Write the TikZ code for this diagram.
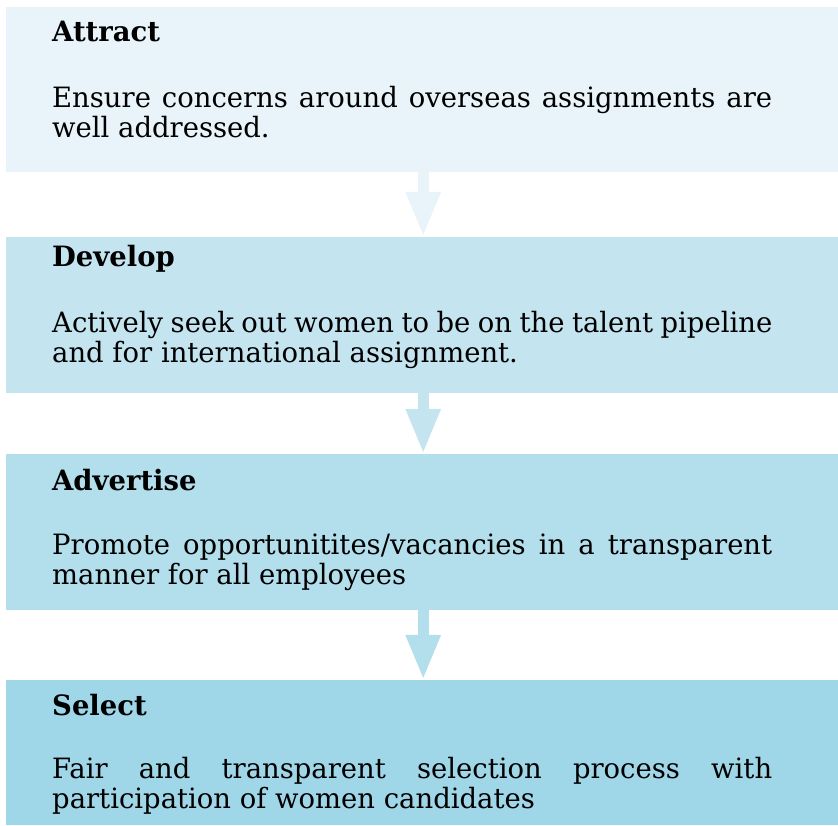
\documentclass[tikz,border=0pt]{standalone}
\usepackage{fontspec}
\setmainfont{DejaVu Serif}[FakeStretch=0.98]
\usetikzlibrary{arrows.meta, positioning}
\definecolor{attractblue}{HTML}{E8F4F9}
\definecolor{developblue}{HTML}{C4E4F0}
\definecolor{advertiseblue}{HTML}{B3DEEC}
\definecolor{selectblue}{HTML}{9FD6E8}

\begin{document}
\begin{tikzpicture}[
    x=1pt, y=1pt,
    every node/.style={font=\fontsize{28}{30}\selectfont},
    stage/.style={rectangle, anchor=north west, minimum width=832pt, inner sep=0pt},
    title/.style={anchor=base west, inner sep=0pt, font=\fontsize{28}{30}\selectfont\bfseries},
    detail/.style={anchor=base west, inner sep=0pt, text width=720pt, align=justify},
    flow/.style={line width=11pt, -{Triangle[width=32pt, length=45pt]}}
]
\useasboundingbox (0,0) rectangle (838,825);

% Four stages
\node[stage, fill=attractblue, minimum height=165pt] (attract) at (6, 818) {};
\node[stage, fill=developblue, minimum height=156pt] (develop) at (6, 588) {};
\node[stage, fill=advertiseblue, minimum height=156pt] (advertise) at (6, 371) {};
\node[stage, fill=selectblue, minimum height=145pt] (select) at (6, 145) {};

% Titles
\node[title] (attracttitle) at (52, 783) {Attract};
\node[title] (developtitle) at (52, 558) {Develop};
\node[title] (advertisetitle) at (52, 334) {Advertise};
\node[title] (selecttitle) at (52, 110) {Select};

% Descriptions
\node[detail] (attracttext) at (52, 717) {Ensure concerns around overseas assignments are\linebreak well addressed.};
\node[detail] (developtext) at (52, 492) {Actively seek out women to be on the talent pipeline\linebreak and for international assignment.};
\node[detail] (advertisetext) at (52, 270) {Promote opportunitites/vacancies in a transparent\linebreak manner for all employees};
\node[detail] (selecttext) at (52, 47) {Fair and transparent selection process with\linebreak participation of women candidates};

% Arrows
\draw[flow, draw=attractblue] ([xshift=1pt]attract.south) -- ([xshift=1pt]develop.north);
\draw[flow, draw=developblue] ([xshift=1pt]develop.south) -- ([xshift=1pt]advertise.north);
\draw[flow, draw=advertiseblue] ([xshift=1pt]advertise.south) -- ([xshift=1pt]select.north);

\end{tikzpicture}
\end{document}
